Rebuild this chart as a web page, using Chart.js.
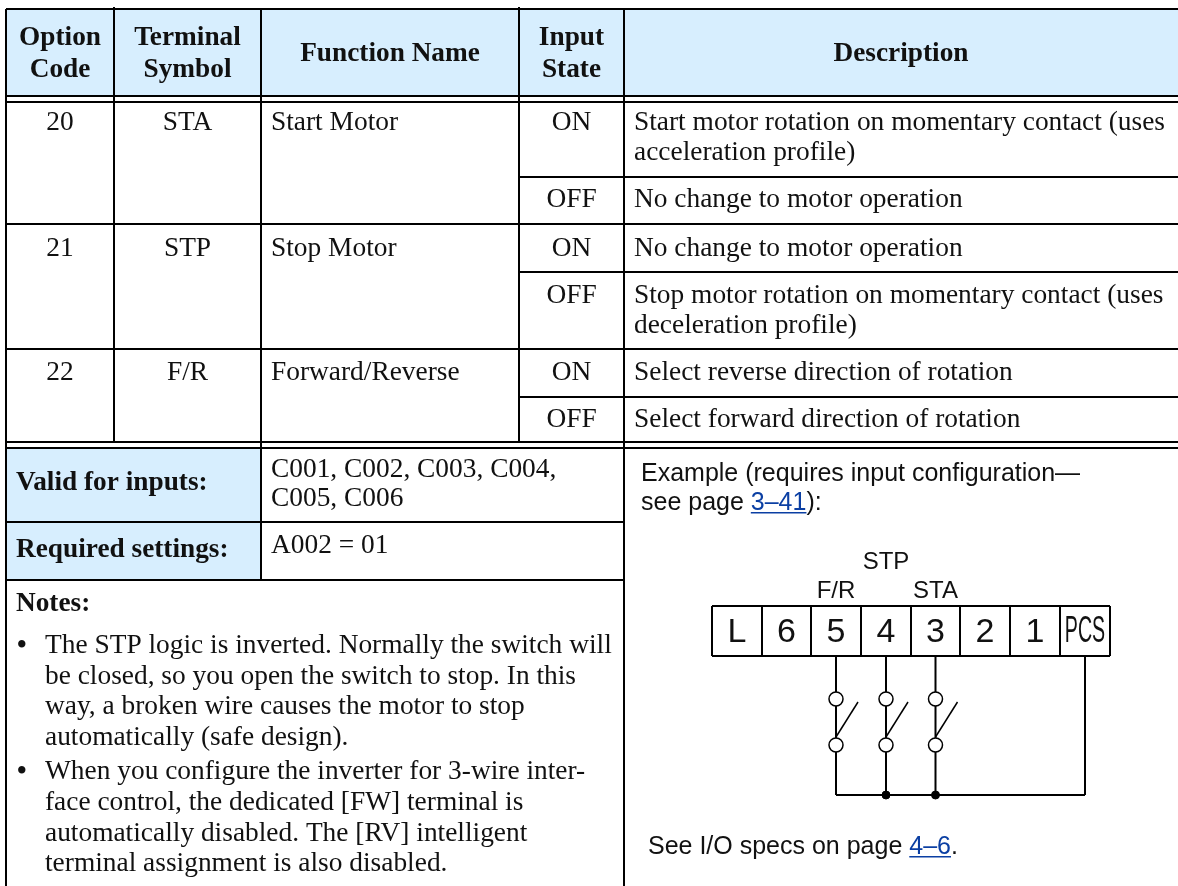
<!DOCTYPE html>
<html>
<head>
<meta charset="utf-8">
<style>
  html, body { margin: 0; padding: 0; background: #fff; }
  canvas { display: block; }
</style>
<script src="https://cdn.jsdelivr.net/npm/chart.js@4"></script>
</head>
<body>
<canvas id="tableChart" width="1178" height="886"></canvas>
<script>
// table content
const headers = [['Option', 'Code'], ['Terminal', 'Symbol'], ['Function Name'], ['Input', 'State'], ['Description']];
const optionCodes = ['20', '21', '22'];
const terminalSymbols = ['STA', 'STP', 'F/R'];
const functionNames = ['Start Motor', 'Stop Motor', 'Forward/Reverse'];
const inputStates = ['ON', 'OFF', 'ON', 'OFF', 'ON', 'OFF'];
const descriptions = [
    ['Start motor rotation on momentary contact (uses', 'acceleration profile)'],
    ['No change to motor operation'],
    ['No change to motor operation'],
    ['Stop motor rotation on momentary contact (uses', 'deceleration profile)'],
    ['Select reverse direction of rotation'],
    ['Select forward direction of rotation']
];
const settingLabels = ['Valid for inputs:', 'Required settings:'];
const settingValues = [['C001, C002, C003, C004,', 'C005, C006'], ['A002 = 01']];
const notesTitle = 'Notes:';
const notes = [
    ['The STP logic is inverted. Normally the switch will', 'be closed, so you open the switch to stop. In this', 'way, a broken wire causes the motor to stop', 'automatically (safe design).'],
    ['When you configure the inverter for 3-wire inter-', 'face control, the dedicated [FW] terminal is', 'automatically disabled. The [RV] intelligent', 'terminal assignment is also disabled.']
];
const terminals = ['L', '6', '5', '4', '3', '2', '1', 'PCS'];
const wiredTerminals = ['5', '4', '3'];
const wireLabels = { '5': 'F/R', '4': 'STP', '3': 'STA' };

// layout
const colX = [6, 114, 261, 519, 624, 1178];
const rowY = [9, 96, 102, 177, 224, 272, 349, 397, 442, 448, 522, 580];
const boxX = [712, 762, 811, 861, 911, 960, 1010, 1060, 1110];
const boxTop = 606, boxBottom = 656, busY = 795, topCircleY = 699, lowCircleY = 745;
const serif = '"Liberation Serif", serif';
const sans = '"Liberation Sans", sans-serif';
const INK = '#000000';
const TEXT = '#111111';
const LINK = '#0b3fa3';
const HEAD = '#d7eefe';

const datasets = [];
const segment = (x1, y1, x2, y2, w = 2) => datasets.push({
    data: [{ x: x1, y: y1 }, { x: x2, y: y2 }],
    showLine: true, borderColor: INK, borderWidth: w, pointRadius: 0
});
const fillRect = (x1, y1, x2, y2) => datasets.push({
    data: [{ x: x1, y: y1 }, { x: x2, y: y1 }],
    showLine: true, borderWidth: 0, pointRadius: 0,
    fill: { value: y2 }, backgroundColor: HEAD
});

const terminalCenter = t => {
    const i = terminals.indexOf(t);
    return (boxX[i] + boxX[i + 1]) / 2;
};
const wireXs = wiredTerminals.map(terminalCenter);
const pcsX = 1085;

// switch contacts go first so they sit on top of the wires
datasets.push({
    data: wireXs.flatMap(x => [{ x, y: topCircleY }, { x, y: lowCircleY }]),
    pointRadius: 7, pointBackgroundColor: '#fff', pointBorderColor: INK, pointBorderWidth: 1.5
});
datasets.push({
    data: wireXs.slice(1).map(x => ({ x, y: busY })),
    pointRadius: 4, pointBackgroundColor: INK, pointBorderColor: INK
});

// table rules
[0, 1, 2, 4, 6, 8, 9].forEach(i => segment(colX[0], rowY[i], 1178, rowY[i], 2));
[3, 5, 7].forEach(i => segment(colX[3], rowY[i], 1178, rowY[i]));
[10, 11].forEach(i => segment(colX[0], rowY[i], colX[4], rowY[i]));
segment(colX[0], rowY[0], colX[0], 886);
segment(colX[1], rowY[0] - 2, colX[1], rowY[8]);
segment(colX[2], rowY[0], colX[2], rowY[11]);
segment(colX[3], rowY[0] - 2, colX[3], rowY[8]);
segment(colX[4], rowY[0], colX[4], 886);

// terminal strip
segment(boxX[0], boxTop, boxX[8], boxTop);
segment(boxX[0], boxBottom, boxX[8], boxBottom);
boxX.forEach(x => segment(x, boxTop, x, boxBottom));

// wiring
wireXs.forEach(x => {
    segment(x, boxBottom, x, busY);
    segment(x, lowCircleY - 8, x + 22, topCircleY + 3, 1.5);
});
segment(pcsX, boxBottom, pcsX, busY);
segment(wireXs[0], busY, pcsX, busY);

// shaded cells last, they are painted underneath
fillRect(colX[0], rowY[0], 1178, rowY[1]);
fillRect(colX[0], rowY[9], colX[2], rowY[11]);

function put(ctx, chart, str, x, y, font, align = 'left', color = TEXT, squeeze = 1) {
    const px = chart.scales.x.getPixelForValue(x);
    const py = chart.scales.y.getPixelForValue(y);
    ctx.save();
    ctx.font = font;
    ctx.fillStyle = color;
    ctx.textAlign = align;
    ctx.textBaseline = 'alphabetic';
    ctx.translate(px, py);
    ctx.scale(squeeze, 1);
    ctx.fillText(str, 0, 0);
    ctx.restore();
}

// sentence with a blue underlined page reference in it
function putLink(ctx, chart, before, link, after, x, y, font) {
    ctx.save();
    ctx.font = font;
    const lx = x + ctx.measureText(before).width;
    const lw = ctx.measureText(link).width;
    ctx.restore();
    put(ctx, chart, before, x, y, font);
    put(ctx, chart, link, lx, y, font, 'left', LINK);
    put(ctx, chart, after, lx + lw, y, font);
    ctx.save();
    ctx.fillStyle = LINK;
    ctx.fillRect(chart.scales.x.getPixelForValue(lx), chart.scales.y.getPixelForValue(y + 2), lw, 1.5);
    ctx.restore();
}

const tableText = {
    id: 'tableText',
    afterDatasetsDraw(chart) {
        const ctx = chart.ctx;
        const body = `27.4px ${serif}`, bold = `bold 27.3px ${serif}`;
        const mid = i => (colX[i] + colX[i + 1]) / 2;

        // header
        headers.forEach((lines, i) => {
            const first = lines.length === 2 ? 45 : 61;
            lines.forEach((l, k) => put(ctx, chart, l, mid(i), first + k * 32, bold, 'center'));
        });

        // rows
        const groupBase = [130, 256, 380];
        optionCodes.forEach((v, i) => {
            put(ctx, chart, v, mid(0), groupBase[i], body, 'center');
            put(ctx, chart, terminalSymbols[i], mid(1), groupBase[i], body, 'center');
            put(ctx, chart, functionNames[i], 271, groupBase[i], body);
        });
        const stateBase = [130, 207, 256, 303, 380, 427];
        inputStates.forEach((v, i) => {
            put(ctx, chart, v, mid(3), stateBase[i], body, 'center');
            descriptions[i].forEach((l, k) => put(ctx, chart, l, 634, stateBase[i] + k * 29.5, body));
        });

        // settings block
        put(ctx, chart, settingLabels[0], 16, 490, bold);
        put(ctx, chart, settingLabels[1], 16, 557, bold);
        settingValues[0].forEach((l, k) => put(ctx, chart, l, 271, 477 + k * 29, body));
        settingValues[1].forEach(l => put(ctx, chart, l, 271, 553, body));

        // notes
        put(ctx, chart, notesTitle, 16, 611, bold);
        let y = 653;
        notes.forEach(lines => {
            put(ctx, chart, '\u2022', 17, y, bold);
            lines.forEach(l => { put(ctx, chart, l, 45, y, body); y += 30.6; });
            y += 4;
        });

        // example panel
        const help = `25px ${sans}`;
        put(ctx, chart, 'Example (requires input configuration\u2014', 641, 481, help);
        putLink(ctx, chart, 'see page ', '3\u201341', '):', 641, 510, help);
        putLink(ctx, chart, 'See I/O specs on page ', '4\u20136', '.', 648, 854, help);

        // terminal strip labels
        terminals.forEach((t, i) => {
            const cx = (boxX[i] + boxX[i + 1]) / 2;
            if (t === 'PCS') put(ctx, chart, t, cx, 642, `37px ${sans}`, 'center', TEXT, 0.53);
            else put(ctx, chart, t, cx, 642, `34px ${sans}`, 'center');
        });
        wiredTerminals.forEach(t => {
            put(ctx, chart, wireLabels[t], terminalCenter(t), t === '4' ? 569 : 598, `24px ${sans}`, 'center');
        });
    }
};

new Chart(document.getElementById('tableChart'), {
    type: 'scatter',
    data: { datasets },
    plugins: [tableText],
    options: {
        responsive: false,
        animation: false,
        layout: { padding: 0, autoPadding: false },
        plugins: { legend: { display: false }, tooltip: { enabled: false } },
        scales: {
            x: { type: 'linear', min: 0, max: 1178, display: false },
            y: { type: 'linear', min: 0, max: 886, reverse: true, display: false }
        }
    }
});
</script>
</body>
</html>
